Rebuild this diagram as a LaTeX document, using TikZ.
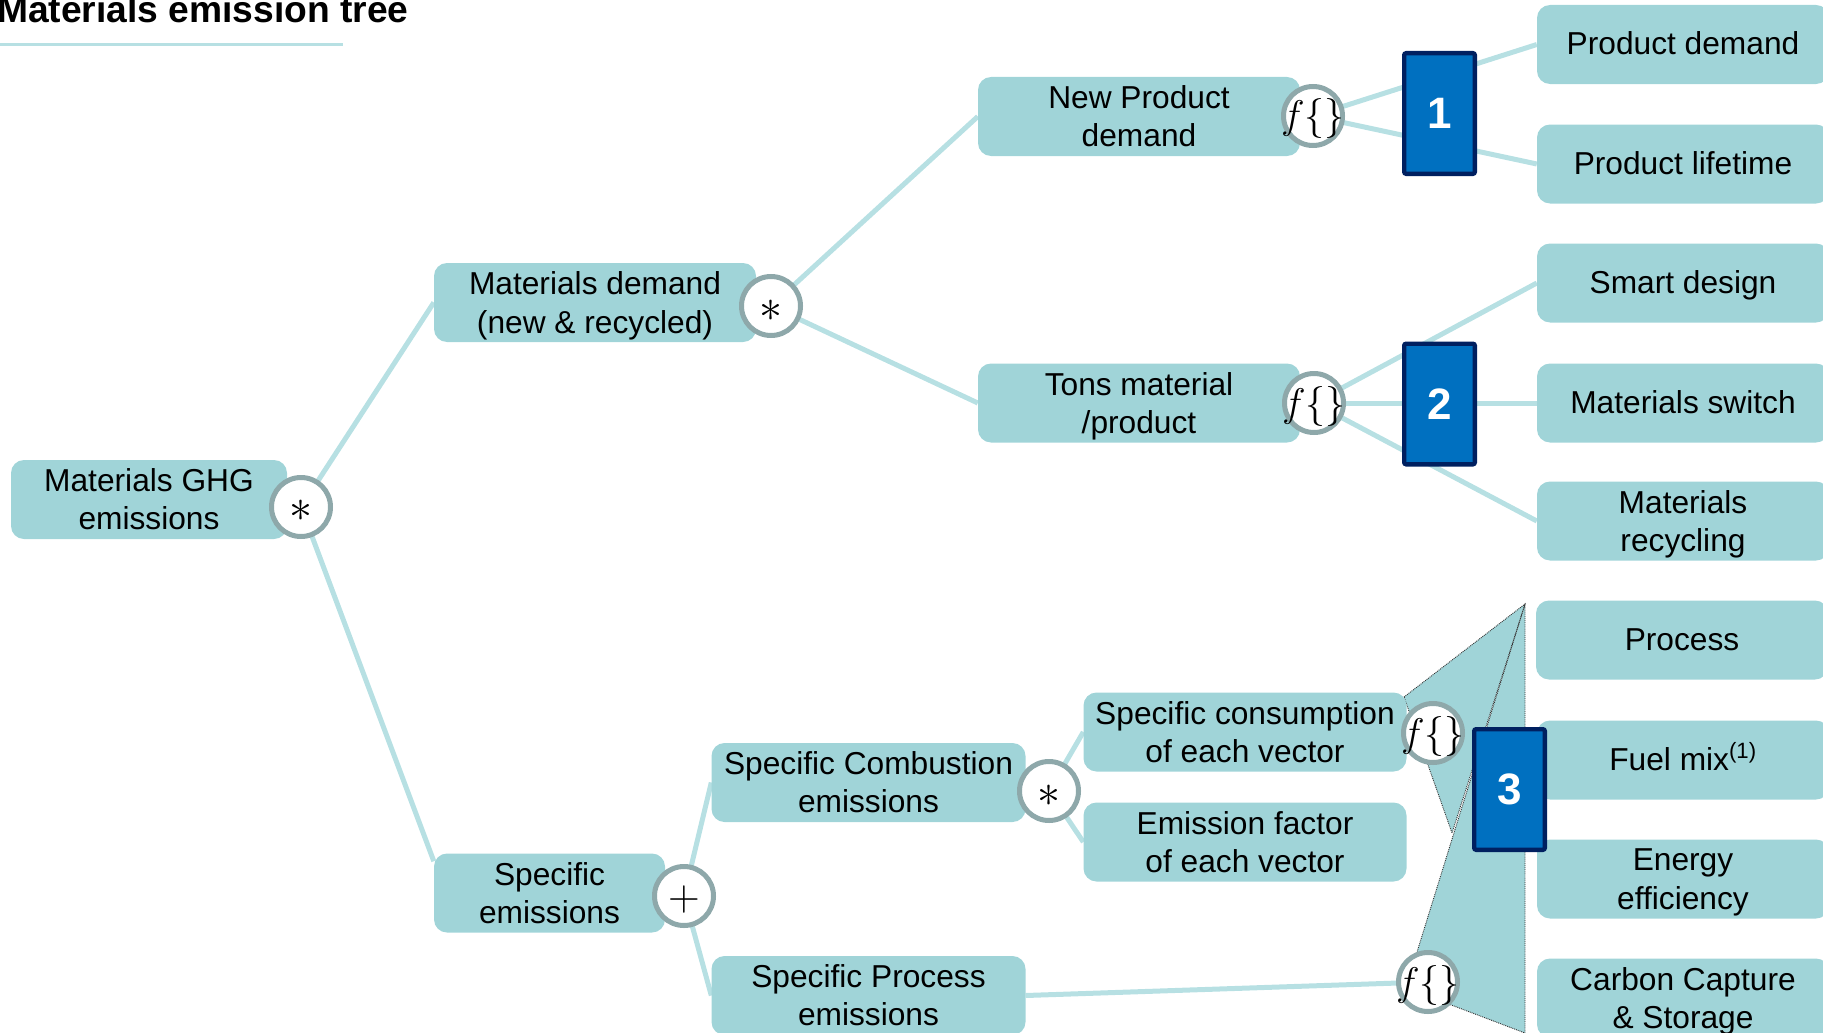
\RequirePackage{fix-cm}
\documentclass[tikz,border=0pt]{standalone}
\usepackage{fontspec}
\setmainfont{Liberation Sans}
\usetikzlibrary{backgrounds,calc}
\definecolor{boxc}{RGB}{160,212,216}
\definecolor{linec}{RGB}{183,224,227}
\definecolor{ringc}{RGB}{142,168,170}
\definecolor{navyc}{RGB}{0,32,96}
\definecolor{bluec}{RGB}{0,112,192}
\newcommand\nodp[1]{\raisebox{0pt}[\height][0pt]{#1}}
\newcommand\opsym[2]{\raisebox{#1}[0pt][0pt]{\makebox[0pt]{#2}}}
\begin{document}
\begin{tikzpicture}[x=1pt,y=-1pt,
  box/.style={fill=boxc, rounded corners=13pt, minimum height=79pt, inner sep=0pt, align=center, font=\fontsize{31.7}{38.2}\selectfont},
  rbox/.style={box, minimum width=292pt},
  one/.style={text height=20.5pt, text depth=0pt},
  op/.style={circle, draw=ringc, line width=5pt, fill=white, minimum size=59pt, inner sep=0pt, font=\fontsize{40}{40}\selectfont},
  num/.style={draw=navyc, fill=bluec, line width=4.3pt, minimum width=70.7pt, minimum height=120.7pt, inner sep=0pt, text=white, font=\fontsize{44}{44}\selectfont\bfseries, rounded corners=2pt},
  conn/.style={draw=linec, line width=5pt},
  funnel/.style={fill=boxc},
  fedge/.style={draw=black!80, densely dotted, line width=0.9pt}
]
\clip (0,0) rectangle (1823,1033);
\node[anchor=base west, inner sep=0pt, font=\fontsize{37.2}{40}\selectfont\bfseries] (title) at (-3,23) {Materials emission tree};
\coordinate (ula) at (0,45);
\coordinate (ulb) at (343,45);
\draw[draw=linec, line width=3pt] (ula) -- (ulb);

% boxes
\node[box, minimum width=276pt] (ghg) at (149,499.5) {Materials GHG\\emissions};
\node[box, minimum width=322pt] (matdem) at (595,302.5) {Materials demand\\\nodp{(new \& recycled)}};
\node[box, minimum width=322pt] (newp) at (1139,116.5) {New Product\\demand};
\node[box, minimum width=322pt] (tons) at (1139,403) {Tons material\\\nodp{/product}};
\node[box, minimum width=231pt] (spec) at (549.5,893) {Specific\\emissions};
\node[box, minimum width=314pt] (comb) at (868.5,782.5) {Specific Combustion\\emissions};
\node[box, minimum width=323pt] (cons) at (1245,732) {Specific consumption\\of each vector};
\node[box, minimum width=323pt] (ef) at (1245,842) {Emission factor\\of each vector};
\node[box, minimum width=314pt] (proc) at (868.5,995.5) {Specific Process\\emissions};

\node[rbox, one] (pd) at (1683,44.5) {Product demand};
\node[rbox, one] (pl) at (1683,164) {Product lifetime};
\node[rbox, one] (sd) at (1683,283) {Smart design};
\node[rbox, one] (ms) at (1683,403) {Materials switch};
\node[rbox] (mr) at (1683,521) {Materials\\\nodp{recycling}};
\node[rbox, one] (pr) at (1682,640) {Process};
\node[rbox, one] (fm) at (1683,760) {Fuel mix\textsuperscript{(1)}};
\node[rbox] (ee) at (1683,879) {Energy\\\nodp{efficiency}};
\node[rbox] (ccs) at (1683,998) {Carbon Capture\\\nodp{\& Storage}};

% operators
\node[op, font=\fontsize{46}{46}\selectfont] (c1) at (301,507) {\opsym{-14pt}{$\ast$}};
\node[op, font=\fontsize{46}{46}\selectfont] (c2) at (771,306) {\opsym{-15pt}{$\ast$}};
\node[op] (f1) at (1313,116) {\opsym{-13pt}{$f\{\}$}};
\node[op] (f2) at (1314,403) {\opsym{-13pt}{$f\{\}$}};
\node[op, font=\fontsize{44}{44}\selectfont] (c4) at (684,896) {\opsym{-14pt}{$+$}};
\node[op, font=\fontsize{46}{46}\selectfont] (c5) at (1049,791) {\opsym{-15pt}{$\ast$}};
\node[op] (f3) at (1433,733) {\opsym{-13pt}{$f\{\}$}};
\node[op] (f4) at (1428,982) {\opsym{-13pt}{$f\{\}$}};

% numbered boxes
\node[num] (n1) at (1439.5,113.5) {\raisebox{-6pt}{1}};
\node[num] (n2) at (1439.5,404) {\raisebox{-5pt}{2}};
\node[num] (n3) at (1509.5,789.5) {\raisebox{-3pt}{3}};

\begin{pgfonlayer}{background}
  \coordinate (fa) at (1525,604);
  \coordinate (fb) at (1404,697);
  \coordinate (fc) at (1452,833);
  \coordinate (fd) at (1417,952);
  \coordinate (fe) at (1425,995);
  \coordinate (ff) at (1525,1033);
  \fill[funnel] (fb) -- (fa) -- (fc) -- cycle;
  \fill[funnel] (fa) -- (fd) -- (fe) -- (ff) -- cycle;
  \draw[fedge] (fb) -- (fa) -- (fc) -- cycle;
  \draw[fedge] (fa) -- (fd) -- (fe) -- (ff) -- cycle;

  \draw[conn] (c1.center) -- (matdem.west);
  \draw[conn] (c1.center) -- ($(spec.west)!0.8!(spec.north west)$);
  \draw[conn] (c2.center) -- (newp.west);
  \draw[conn] (c2.center) -- (tons.west);
  \draw[conn] (f1.center) -- (pd.west);
  \draw[conn] (f1.center) -- (pl.west);
  \draw[conn] (f2.center) -- (sd.west);
  \draw[conn] (f2.center) -- (ms.west);
  \draw[conn] (f2.center) -- (mr.west);
  \draw[conn] (c4.center) -- (comb.west);
  \draw[conn] (c4.center) -- (proc.west);
  \draw[conn] (c5.center) -- (cons.west);
  \draw[conn] (c5.center) -- (ef.west);
  \draw[conn] (proc.east) -- (f4.center);
\end{pgfonlayer}
\end{tikzpicture}
\end{document}
